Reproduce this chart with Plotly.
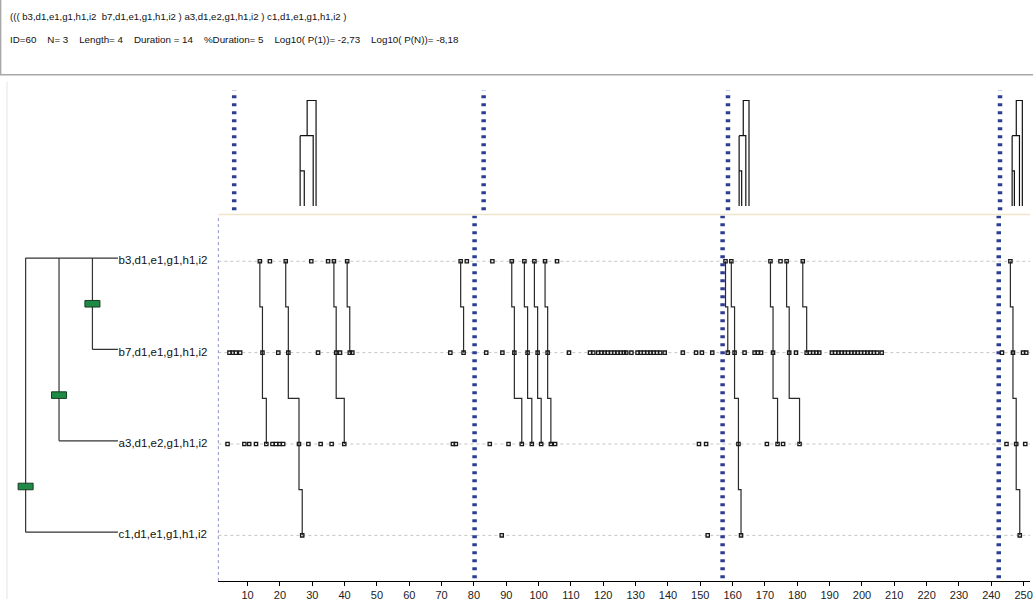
import plotly.graph_objects as go

W, H = 1033, 601

# ---------------- data ----------------
row_labels = ["c1,d1,e1,g1,h1,i2", "a3,d1,e2,g1,h1,i2", "b7,d1,e1,g1,h1,i2", "b3,d1,e1,g1,h1,i2"]
row_pos = [0, 1, 2, 3]

events_b3 = [13.8, 16.9, 21.8, 29.7, 34.9, 36.7, 40.8, 75.9, 77.8, 85.7, 91.7, 95.6, 98.7, 102.0,
             105.7, 157.8, 159.6, 171.7, 174.8, 176.7, 181.7, 245.9]
events_b7 = [4.4, 5.4, 6.4, 7.7, 14.6, 19.5, 22.6, 31.8, 37.4, 38.6, 41.6, 42.4, 72.7, 76.8, 83.8,
             88.8, 92.5, 96.6, 99.7, 102.8, 109.4, 115.9, 116.9, 118.4, 119.4, 120.4, 121.4, 122.4,
             123.4, 124.4, 125.4, 126.4, 127.1, 128.7, 130.6, 131.6, 132.6, 133.6, 134.6, 135.6,
             136.6, 137.6, 139.0, 144.6, 148.7, 150.5, 153.7, 158.5, 160.6, 163.7, 166.8, 167.8,
             168.8, 172.5, 177.5, 179.6, 182.9, 183.9, 184.9, 185.9, 186.8, 190.7, 191.7, 192.7,
             193.7, 194.7, 195.7, 196.7, 197.7, 198.7, 199.7, 200.7, 201.7, 202.7, 203.7, 204.7,
             206.1, 243.3, 246.7, 249.8, 250.8]
events_a3 = [3.8, 9.0, 10.5, 12.6, 15.8, 17.7, 18.8, 19.9, 21.0, 25.9, 28.8, 32.6, 36.0, 39.9, 73.5,
             74.4, 84.9, 90.7, 94.8, 97.9, 100.8, 103.8, 105.1, 149.6, 151.8, 161.8, 170.6, 173.9,
             175.6, 180.7, 244.7, 247.7, 250.5]
events_c1 = [26.9, 88.6, 152.3, 162.6, 248.8]

# occurrences: times at b3, b7, a3, c1 (partial ones stop early)
occurrences = [
    [13.8, 14.6, 15.8],
    [21.8, 22.6, 25.9, 26.9],
    [36.7, 37.4, 39.9],
    [40.8, 41.6],
    [75.9, 76.8],
    [91.7, 92.5, 94.8],
    [95.6, 96.6, 97.9],
    [98.7, 99.7, 100.8],
    [102.0, 102.8, 103.8],
    [157.8, 158.5],
    [159.6, 160.6, 161.8, 162.6],
    [171.7, 172.5, 173.9],
    [176.7, 177.5, 180.7],
    [181.7, 182.9],
    [245.9, 246.7, 247.7, 248.8],
]

separators_main = [80.2, 156.9, 242.3]
separators_top = [1.9, 80.2, 156.9, 242.3]

# top panel: dendrograms of complete occurrences (leaf times b3, b7, a3, c1) and inner node
top_leaves = [[22.6, 23.9, 26.7, 27.6], [160.4, 161.2, 162.5, 163.5], [246.1, 246.8, 248.4, 249.3]]
top_nodes = [24.8, 161.7, 247.4]
merge_levels = [1, 2, 3]

# left tree: node depth and the row merged at that node
tree_node_depth = [3, 2, 1]
tree_node_child = [2, 1, 0]
leaf_start_depth = [1, 2, 3, 1]   # for rows 0..3
leaf_end_depth = 3.764

x_ticks = list(range(10, 251, 10))

header_line1 = "((( b3,d1,e1,g1,h1,i2  b7,d1,e1,g1,h1,i2 ) a3,d1,e2,g1,h1,i2 ) c1,d1,e1,g1,h1,i2 )"
header_line2 = ("ID=60    N= 3    Length= 4    Duration = 14    %Duration= 5    "
                "Log10( P(1))= -2,73    Log10( P(N))= -8,18")

# ---------------- styling ----------------
FONT = "Liberation Sans, Arial, sans-serif"
BLUE = "#2c3e94"
LINE = "#2a2a2a"
GREEN = "#1f8a45"
tree_off = 0.035

fig = go.Figure()

# events
ev_x, ev_y = [], []
for r, lst in zip(row_pos, [events_c1, events_a3, events_b7, events_b3]):
    ev_x += lst
    ev_y += [r] * len(lst)

# occurrence step lines
ox, oy = [], []
for occ in occurrences:
    top = row_pos[-1]
    ox.append(occ[0]); oy.append(top)
    for k in range(1, len(occ)):
        ym = top - k + 0.5
        ox += [occ[k - 1], occ[k]]
        oy += [ym, ym]
    ox.append(occ[-1]); oy.append(top - (len(occ) - 1))
    ox.append(None); oy.append(None)
fig.add_trace(go.Scatter(x=ox, y=oy, mode="lines", line=dict(color=LINE, width=1.2),
                         xaxis="x", yaxis="y", hoverinfo="skip", showlegend=False))

# separators main
sx, sy = [], []
for s in separators_main:
    sx += [s, s, None]; sy += [-0.47, 3.5, None]
fig.add_trace(go.Scatter(x=sx, y=sy, mode="lines", line=dict(color=BLUE, width=4.5, dash="3px,5px"),
                         xaxis="x", yaxis="y", hoverinfo="skip", showlegend=False))

fig.add_trace(go.Scatter(x=ev_x, y=ev_y, mode="markers",
                         marker=dict(symbol="square-open", size=3.3, color="#1a1a1a",
                                     line=dict(color="#1a1a1a", width=1.3)),
                         xaxis="x", yaxis="y", hoverinfo="skip", showlegend=False))

# top separators
tx, ty = [], []
for s in separators_top:
    tx += [s, s, None]; ty += [-0.12, 3.3, None]
fig.add_trace(go.Scatter(x=tx, y=ty, mode="lines", line=dict(color=BLUE, width=4.5, dash="3px,5px"),
                         xaxis="x2", yaxis="y2", hoverinfo="skip", showlegend=False))

# top dendrograms
dx, dy = [], []
l1, l2, l3 = merge_levels
for lv, nd in zip(top_leaves, top_nodes):
    a, b, c, d = lv
    dx += [a, a, None]; dy += [0, l2, None]
    dx += [b, b, a, None]; dy += [0, l1, l1, None]
    dx += [c, c, a, None]; dy += [0, l2, l2, None]
    dx += [nd, nd, d, d, None]; dy += [l2, l3, l3, 0, None]
fig.add_trace(go.Scatter(x=dx, y=dy, mode="lines", line=dict(color="#111", width=1.2),
                         xaxis="x2", yaxis="y2", hoverinfo="skip", showlegend=False))

# left tree
trx, tr_y = [], []
for r in row_pos:
    trx += [leaf_start_depth[r], leaf_end_depth, None]
    tr_y += [r + tree_off, r + tree_off, None]
for dpt, ch in zip(tree_node_depth, tree_node_child):
    trx += [dpt, dpt, None]
    tr_y += [row_pos[-1] + tree_off, ch + tree_off, None]
fig.add_trace(go.Scatter(x=trx, y=tr_y, mode="lines", line=dict(color="#333", width=1.2),
                         xaxis="x3", yaxis="y", hoverinfo="skip", showlegend=False))
fig.add_trace(go.Scatter(x=[leaf_end_depth + 0.02] * 4, y=row_pos, mode="text", text=row_labels,
                         textposition="middle right", textfont=dict(family=FONT, size=11.5, color="#111"),
                         xaxis="x3", yaxis="y", hoverinfo="skip", showlegend=False, cliponaxis=False))

shapes = []
for dpt, ch in zip(tree_node_depth, tree_node_child):
    yc = ch + 0.5 + tree_off
    shapes.append(dict(type="rect", xref="x3", yref="y", x0=dpt - 0.225, x1=dpt + 0.225,
                       y0=yc - 0.036, y1=yc + 0.036, fillcolor=GREEN,
                       line=dict(color="#173d22", width=1), layer="above"))

# row gridlines
for r in row_pos:
    shapes.append(dict(type="line", xref="x domain", yref="y", x0=0, x1=1, y0=r, y1=r,
                       line=dict(color="#c4c4c4", width=1, dash="3px,3px"), layer="below"))
# left dotted border of main panel
shapes.append(dict(type="line", xref="x domain", yref="y domain", x0=0, x1=0, y0=0, y1=1,
                   line=dict(color="#8f96c8", width=1, dash="dot")))
# separator between top and main panels
shapes.append(dict(type="line", xref="x domain", yref="y domain", x0=0, x1=1, y0=1.003, y1=1.003,
                   line=dict(color="#eee6c8", width=1.5)))
# faint left panel border
shapes.append(dict(type="line", xref="paper", yref="paper", x0=7 / W, x1=7 / W, y0=0, y1=1 - 82 / H,
                   line=dict(color="#e4e4e4", width=1)))
# header box
shapes.append(dict(type="rect", xref="paper", yref="paper", x0=0.6 / W, x1=1.2, y0=1 - 75 / H, y1=1.2,
                   line=dict(color="#a8a8a8", width=1.5), fillcolor="rgba(0,0,0,0)"))

annotations = [
    dict(xref="paper", yref="paper", x=8 / W, y=1 - 17 / H, xanchor="left", yanchor="middle",
         text=header_line1, showarrow=False, font=dict(family=FONT, size=9.6, color="#111")),
    dict(xref="paper", yref="paper", x=8 / W, y=1 - 40 / H, xanchor="left", yanchor="middle",
         text=header_line2.replace(" ", "\u00a0"), showarrow=False,
         font=dict(family=FONT, size=9.8, color="#111")),
]

px_per_unit = 3.243
x0px = 215.87
main_range = [(219 - x0px) / px_per_unit, (W - x0px) / px_per_unit]
top_scale, top_x0 = 3.195, 228.8
top_range = [(219 - top_x0) / top_scale, (W - top_x0) / top_scale]

fig.update_layout(
    width=W, height=H, margin=dict(l=0, r=0, t=0, b=0),
    paper_bgcolor="white", plot_bgcolor="white", showlegend=False,
    shapes=shapes, annotations=annotations,
    xaxis=dict(domain=[219 / W, 1], range=main_range, anchor="y", tickvals=x_ticks,
               ticks="outside", ticklen=4, tickcolor="#000", showline=True, linecolor="#000",
               linewidth=1, showgrid=False, zeroline=False, ticklabeloverflow="allow",
               tickfont=dict(family=FONT, size=11, color="#222")),
    yaxis=dict(domain=[1 - 583 / H, 1 - 216.3 / H], range=[-0.5, 3.5], visible=False),
    xaxis2=dict(domain=[219 / W, 1], range=top_range, anchor="y2", visible=False),
    yaxis2=dict(domain=[1 - 212 / H, 1 - 83.2 / H], range=[-0.15, 3.5], anchor="x2", visible=False),
    xaxis3=dict(domain=[0, 219 / W], range=[0.2328, 6.770], anchor="y", visible=False),
)

fig.write_html("out.html", config={"displayModeBar": False},
               post_script="document.body.style.margin='0px';document.body.style.overflow='hidden';")
